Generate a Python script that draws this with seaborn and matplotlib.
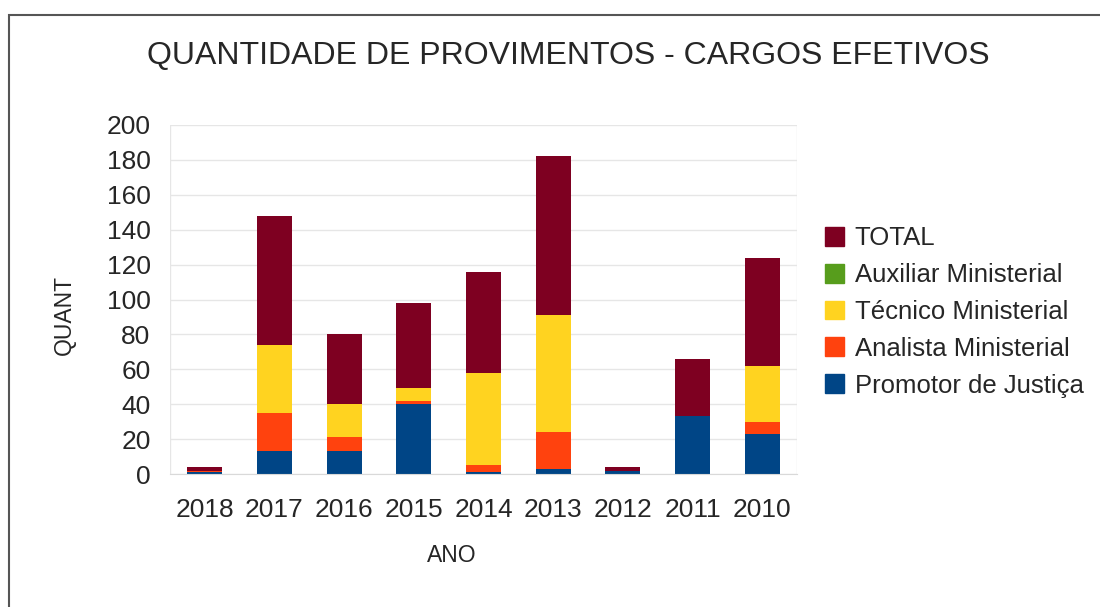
import seaborn as sns
import matplotlib.pyplot as plt
import matplotlib.patches as mpatches
import numpy as np
import pandas as pd

anos = ["2018", "2017", "2016", "2015", "2014", "2013", "2012", "2011", "2010"]
promotor = [1, 13, 13, 40, 1, 3, 2, 33, 23]
analista = [1, 22, 8, 2, 4, 21, 0, 0, 7]
tecnico = [0, 39, 19, 7, 53, 67, 0, 0, 32]
auxiliar = [0, 0, 0, 0, 0, 0, 0, 0, 0]
total = [2, 74, 40, 49, 58, 91, 2, 33, 62]

series = ["Promotor de Justiça", "Analista Ministerial", "Técnico Ministerial",
          "Auxiliar Ministerial", "TOTAL"]
cores = ["#004586", "#ff420e", "#ffd320", "#579d1c", "#7e0021"]

sns.set_style("white")
plt.rcParams['font.family'] = ['Liberation Sans', 'DejaVu Sans']

df = pd.DataFrame({"ano": anos, series[0]: promotor, series[1]: analista,
                   series[2]: tecnico, series[3]: auxiliar, series[4]: total})
acum = df[series].cumsum(axis=1)

fig = plt.figure(figsize=(11, 6.07), dpi=100)
ax = fig.add_axes([170 / 1100, 1 - 474 / 607, 627 / 1100, 349 / 607])

# stacked bars: draw tallest first
for s, c in zip(reversed(series), reversed(cores)):
    sns.barplot(x=df["ano"], y=acum[s], color=c, width=0.5, ax=ax,
                saturation=1, linewidth=0, order=anos)

ax.set_ylim(0, 200)
ax.set_yticks(range(0, 201, 20))
ax.set_xlim(-0.5, 8.5)
ax.grid(axis="y", color="#e6e6e6", linewidth=1)
ax.set_axisbelow(True)
for sp in ["left", "right", "top"]:
    ax.spines[sp].set_visible(False)
ax.spines["bottom"].set_color("#d9d9d9")
ax.axvline(-0.5, color="#e6e6e6", lw=1, zorder=0)
ax.axvline(8.5, color="#e6e6e6", lw=1, zorder=0)

ax.set_xticks(np.arange(-0.5, 9, 1), minor=True)
ax.tick_params(axis="x", which="major", length=0, labelsize=19, pad=17)
ax.tick_params(axis="x", which="minor", length=10, color="#d9d9d9")
ax.tick_params(axis="y", length=12, color="#e6e6e6", labelsize=19, pad=2)

ax.set_xlabel("ANO", fontsize=16.5)
ax.xaxis.set_label_coords(0.45, -0.2)
ax.set_ylabel("QUANT", fontsize=16.5)
ax.yaxis.set_label_coords(-0.15, 0.457)

fig.text(0.517, 1 - 56 / 607, "QUANTIDADE DE PROVIMENTOS - CARGOS EFETIVOS",
         ha="center", va="center", fontsize=23)

handles = [mpatches.Patch(color=c, label=s) for s, c in zip(reversed(series), reversed(cores))]
fig.legend(handles=handles, loc="center left", bbox_to_anchor=(802 / 1100, 1 - 312 / 607),
           frameon=False, fontsize=18.5, handlelength=0.75, handleheight=0.75,
           handletextpad=0.4, labelspacing=0.5)

# outer frame
fig.patches.append(mpatches.Rectangle((9 / 1100, -0.1), 1.2, 1 - 15 / 607 + 0.1,
                                      transform=fig.transFigure, fill=False,
                                      edgecolor="#555555", linewidth=1.5))

fig.savefig("out.png", dpi=100)
